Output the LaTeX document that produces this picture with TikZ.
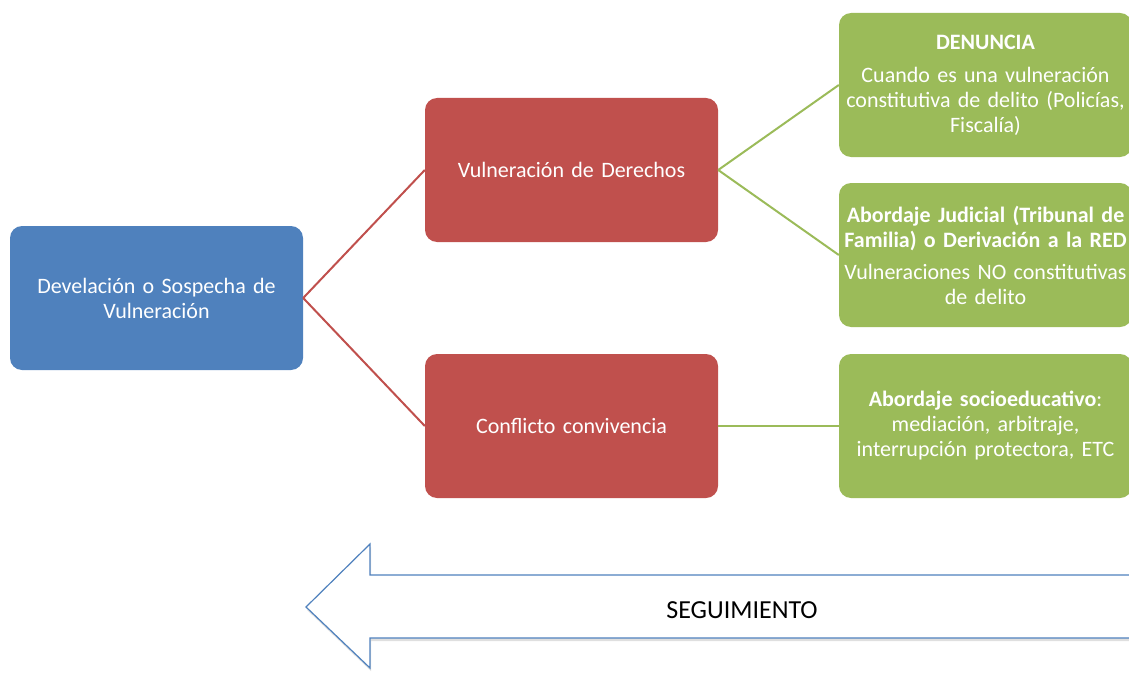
\documentclass[tikz,border=0pt]{standalone}
\usepackage{fontspec}
\setmainfont{Carlito}
\usetikzlibrary{shadows}
\definecolor{bxblue}{HTML}{4F81BD}
\definecolor{bxred}{HTML}{C0504D}
\definecolor{bxgreen}{HTML}{9BBB59}
\newcommand{\fsz}{\fontsize{22}{25}\selectfont}

\begin{document}
\begin{tikzpicture}[x=1pt,y=-1pt,
  box/.style={rounded corners=12pt,minimum width=293pt,minimum height=144pt,
    inner sep=3pt,text width=287pt,align=center,text=white,font=\fsz},
  lnk/.style={line width=2pt}]
  \useasboundingbox (0,0) rectangle (1129,690);
  \node[box,fill=bxblue] (dev) at (156.5,298) {Develación o Sospecha de\\Vulneración};
  \node[box,fill=bxred] (vul) at (571.5,170) {Vulneración de Derechos};
  \node[box,fill=bxred] (con) at (571.5,426) {Conflicto convivencia};
  \node[box,fill=bxgreen] (den) at (985.5,85)
    {\textbf{DENUNCIA}\\[8pt]Cuando es una vulneración\\constitutiva de delito (Policías,\\Fiscalía)};
  \node[box,fill=bxgreen] (jud) at (985.5,255)
    {\textbf{Abordaje Judicial (Tribunal de}\\\textbf{Familia) o Derivación a la RED}\\[7pt]Vulneraciones NO constitutivas\\de delito};
  \node[box,fill=bxgreen] (soc) at (985.5,426)
    {\textbf{Abordaje socioeducativo}:\\mediación, arbitraje,\\interrupción protectora, ETC};
  \draw[lnk,bxred] (dev.east) -- (vul.west);
  \draw[lnk,bxred] (dev.east) -- (con.west);
  \draw[lnk,bxgreen] (vul.east) -- (den.west);
  \draw[lnk,bxgreen] (vul.east) -- (jud.west);
  \draw[lnk,bxgreen] (con.east) -- (soc.west);
  % flecha de seguimiento
  \draw[bxblue,line width=1.2pt,fill=white,
    drop shadow={opacity=0.25,shadow xshift=1pt,shadow yshift=-3pt}]
    (1145,575) -- (370,575) -- (370,544) -- (306,607) -- (370,668)
    -- (370,638) -- (1145,638) -- cycle;
  \node[font=\fontsize{26}{30}\selectfont] (seg) at (742,610) {SEGUIMIENTO};
\end{tikzpicture}
\end{document}
